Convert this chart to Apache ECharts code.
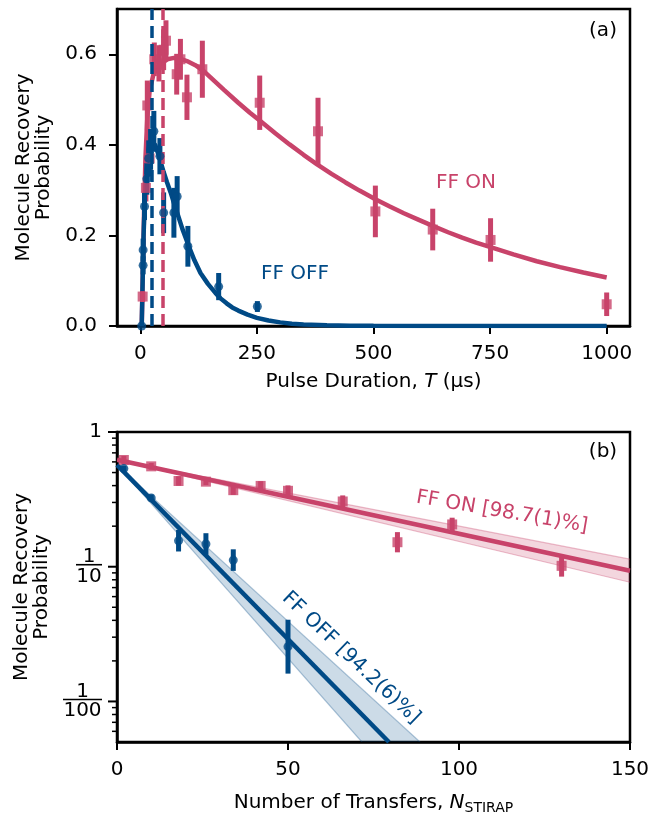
<!DOCTYPE html>
<html>
<head>
<meta charset="utf-8">
<script src="https://cdn.jsdelivr.net/npm/echarts@6/dist/echarts.min.js"></script>
<style>
html,body{margin:0;padding:0;background:#fff}
#main{width:658px;height:816px}
</style>
</head>
<body>
<div id="main"></div>
<script>
var FONT = '"DejaVu Sans"';
var BLUE = '#004a86', PINK = '#c8436a';

// (a) FF ON : pulse duration (us), probability, error
var onT = [5, 12, 15, 20, 30, 40, 50, 55, 78, 86, 100, 133, 256, 381, 504, 627, 751, 1000];
var onP = [0.065, 0.305, 0.487, 0.37, 0.589, 0.58, 0.61, 0.63, 0.556, 0.589, 0.505, 0.567, 0.493, 0.43, 0.253, 0.213, 0.19, 0.048];
var onE = [0.012, 0.03, 0.055, 0.04, 0.037, 0.04, 0.045, 0.045, 0.045, 0.045, 0.05, 0.063, 0.06, 0.074, 0.057, 0.046, 0.048, 0.026];
// (a) FF OFF
var offT = [3, 6, 6, 9, 14, 18, 22, 29, 42, 50, 72, 79, 102, 168, 251];
var offP = [0.0, 0.134, 0.168, 0.264, 0.325, 0.37, 0.39, 0.43, 0.375, 0.25, 0.25, 0.286, 0.176, 0.087, 0.043];
var offE = [0, 0.02, 0.025, 0.03, 0.035, 0.04, 0.045, 0.045, 0.04, 0.045, 0.055, 0.045, 0.045, 0.03, 0.012];
// (a) fit curves
var onFitT = [3, 5, 8, 11, 15, 20, 28, 36, 45, 58, 72, 86, 100, 118, 136, 158, 180, 210, 235, 258, 290, 320, 350, 379, 410, 440, 470, 504, 535, 565, 596, 627, 660, 690, 720, 751, 800, 850, 900, 950, 1000];
var onFitP = [0, 0.1, 0.25, 0.37, 0.46, 0.52, 0.555, 0.57, 0.58, 0.589, 0.592, 0.59, 0.585, 0.576, 0.563, 0.542, 0.521, 0.493, 0.471, 0.452, 0.425, 0.401, 0.378, 0.357, 0.336, 0.317, 0.299, 0.28, 0.264, 0.249, 0.235, 0.221, 0.207, 0.195, 0.184, 0.174, 0.158, 0.143, 0.13, 0.118, 0.107];
var offFitT = [3, 5, 7, 10, 14, 19, 25, 32, 40, 50, 57, 65, 72, 79, 90, 104, 116, 129, 145, 161, 172, 185, 197, 210, 230, 250, 275, 300, 325, 350, 400, 450, 500, 600, 1000];
var offFitP = [0, 0.1, 0.2, 0.29, 0.35, 0.39, 0.405, 0.4, 0.375, 0.34, 0.318, 0.295, 0.272, 0.25, 0.215, 0.176, 0.145, 0.117, 0.093, 0.073, 0.061, 0.05, 0.041, 0.034, 0.025, 0.018, 0.012, 0.008, 0.0052, 0.0035, 0.0015, 0.0007, 0.0003, 0.0001, 0];
// pi-pulse markers
var offTpi = 25, onTpi = 48;
var xTicksA = [0, 250, 500, 750, 1000];
var yTicksA = [0, 0.2, 0.4, 0.6];

// (b) number of transfers, probability, error half-width (log10)
var onN = [2, 10, 18, 26, 34, 42, 50, 66, 82, 98, 130];
var onPb = [0.62, 0.556, 0.433, 0.428, 0.37, 0.398, 0.366, 0.305, 0.152, 0.206, 0.1015];
var onHb = [0.03, 0.025, 0.035, 0.025, 0.035, 0.035, 0.04, 0.045, 0.075, 0.05, 0.08];
var offN = [2, 10, 18, 26, 34, 50];
var offPb = [0.535, 0.324, 0.156, 0.1475, 0.112, 0.0255];
var offHb = [0.02, 0.025, 0.08, 0.08, 0.08, 0.2];
// (b) fit lines and confidence bands
var onFitN = [0, 150], onFitPb = [0.622, 0.0933];
var onBandHiP = [0.622, 0.1137], onBandLoP = [0.622, 0.0767];
var offFitN = [0, 79.5], offFitPb = [0.57, 0.005];
var offBandHiN = [0, 88.6], offBandHiP = [0.57, 0.005];
var offBandLoN = [0, 71.6], offBandLoP = [0.57, 0.005];
var yMajorB = [0.01, 0.1, 1];
var yMinorB = [0.006, 0.007, 0.008, 0.009, 0.02, 0.03, 0.04, 0.05, 0.06, 0.07, 0.08, 0.09,
               0.2, 0.3, 0.4, 0.5, 0.6, 0.7, 0.8, 0.9];

function pairs(xs, ys){ return xs.map(function(x, i){ return [x, ys[i]]; }); }
function errLin(xs, ys, es){ return xs.map(function(x, i){ return [x, ys[i] - es[i], ys[i] + es[i]]; }); }
function errLog(xs, ys, hs){ return xs.map(function(x, i){ var f = Math.pow(10, hs[i]); return [x, ys[i] / f, ys[i] * f]; }); }

function errSeries(data, gi, color){
    return {
        type: 'custom', xAxisIndex: gi, yAxisIndex: gi, data: data, z: 4, silent: true,
        encode: {x: 0, y: [1, 2]},
        renderItem: function(params, api){
            var a = api.coord([api.value(0), api.value(1)]);
            var b = api.coord([api.value(0), api.value(2)]);
            return {type: 'line', shape: {x1: a[0], y1: a[1], x2: b[0], y2: b[1]},
                    style: {stroke: color, lineWidth: 5}};
        }
    };
}

function bandSeries(hiN, hiP, loN, loP, fill, edge){
    return {
        type: 'custom', xAxisIndex: 1, yAxisIndex: 1, silent: true, z: 1,
        data: pairs(hiN, hiP),
        renderItem: function(params, api){
            if (params.dataIndex !== 0) return null;
            var top = hiN.map(function(n, i){ return api.coord([n, hiP[i]]); });
            var bot = loN.map(function(n, i){ return api.coord([n, loP[i]]); }).reverse();
            var cs = params.coordSys;
            var clip = {type: 'rect', shape: {x: cs.x, y: cs.y, width: cs.width, height: cs.height}};
            return {type: 'group', children: [
                {type: 'polygon', shape: {points: top.concat(bot)}, style: {fill: fill}, clipPath: clip},
                {type: 'polyline', shape: {points: top}, style: {stroke: edge, lineWidth: 1.2, fill: null}, clipPath: clip},
                {type: 'polyline', shape: {points: bot}, style: {stroke: edge, lineWidth: 1.2, fill: null}, clipPath: clip}
            ]};
        }
    };
}

function tickSeries(vals, len, w){
    return {
        type: 'custom', xAxisIndex: 1, yAxisIndex: 1, silent: true, clip: false, z: 5,
        data: vals.map(function(v){ return [0, v]; }),
        encode: {x: 0, y: 1},
        renderItem: function(params, api){
            var p = api.coord([0, api.value(1)]);
            var x0 = params.coordSys.x;
            return {type: 'line', shape: {x1: x0 - len, y1: p[1], x2: x0, y2: p[1]},
                    style: {stroke: '#000', lineWidth: w}};
        }
    };
}

var axisLineS = {show: true, onZero: false, lineStyle: {color: '#000', width: 2.5}};

var chart = echarts.init(document.getElementById('main'));
var option = {
    animation: false,
    backgroundColor: '#fff',
    grid: [
        {left: 117, top: 9, width: 513, height: 317, show: true, borderColor: '#000', borderWidth: 2.5},
        {left: 117, top: 432, width: 513, height: 316, show: true, borderColor: '#000', borderWidth: 2.5}
    ],
    xAxis: [
        {type: 'value', gridIndex: 0, min: -50, max: 1050,
         axisLine: axisLineS, splitLine: {show: false},
         axisTick: {customValues: xTicksA, length: 8, lineStyle: {width: 2, color: '#000'}},
         axisLabel: {customValues: xTicksA, margin: 18, color: '#000', fontSize: 20, fontFamily: FONT,
                     formatter: function(v){ return String(v); }},
         name: 'Pulse Duration, {i|T} (μs)', nameLocation: 'middle', nameGap: 46,
         nameTextStyle: {color: '#000', fontSize: 20, fontFamily: FONT,
                         rich: {i: {fontStyle: 'italic', fontSize: 20, fontFamily: FONT, color: '#000'}}}},
        {type: 'value', gridIndex: 1, min: 0, max: 150, interval: 50,
         axisLine: axisLineS, splitLine: {show: false},
         axisTick: {length: 8, lineStyle: {width: 2, color: '#000'}},
         axisLabel: {margin: 18, color: '#000', fontSize: 20, fontFamily: FONT},
         name: '{a|Number of Transfers, }{i|N}{s|STIRAP}', nameLocation: 'middle', nameGap: 49,
         nameTextStyle: {color: '#000', fontSize: 20, fontFamily: FONT,
                         rich: {a: {fontSize: 20, fontFamily: FONT, color: '#000', lineHeight: 24},
                                i: {fontStyle: 'italic', fontSize: 20, fontFamily: FONT, color: '#000', lineHeight: 24},
                                s: {fontSize: 14, fontFamily: FONT, color: '#000', lineHeight: 14, padding: [10, 0, 0, 0]}}}}
    ],
    yAxis: [
        {type: 'value', gridIndex: 0, min: 0, max: 0.7,
         axisLine: axisLineS, splitLine: {show: false},
         axisTick: {customValues: yTicksA, length: 8, lineStyle: {width: 2, color: '#000'}},
         axisLabel: {customValues: yTicksA, margin: 20, color: '#000', fontSize: 20, fontFamily: FONT,
                     formatter: function(v){ return v.toFixed(1); }},
         name: 'Molecule Recovery\nProbability', nameLocation: 'middle', nameGap: 59,
         nameTextStyle: {color: '#000', fontSize: 20, fontFamily: FONT, lineHeight: 20}},
        {type: 'log', gridIndex: 1, min: 0.005, max: 1, logBase: 10,
         axisLine: axisLineS, splitLine: {show: false}, axisTick: {show: false}, minorTick: {show: false},
         axisLabel: {margin: 15, color: '#000', fontSize: 20, fontFamily: FONT,
                     formatter: function(v){
                         var l = Math.log(v) / Math.LN10, e = Math.round(l);
                         if (Math.abs(l - e) > 1e-6) return '';
                         if (e === 0) return '{t|1}';
                         var d = Math.pow(10, -e).toFixed(0);
                         return '{n|1}\n{b' + d.length + '|}\n{d|' + d + '}';
                     },
                     rich: {
                         t: {fontSize: 20, fontFamily: FONT, color: '#000'},
                         n: {fontSize: 20, fontFamily: FONT, color: '#000', align: 'center', lineHeight: 18, padding: [4, 0, 0, 0]},
                         b2: {width: 26, height: 1.6, backgroundColor: '#000', align: 'center'},
                         b3: {width: 39, height: 1.6, backgroundColor: '#000', align: 'center'},
                         d: {fontSize: 20, fontFamily: FONT, color: '#000', align: 'center', lineHeight: 22}
                     }},
         name: 'Molecule Recovery\nProbability', nameLocation: 'middle', nameGap: 59,
         nameTextStyle: {color: '#000', fontSize: 20, fontFamily: FONT, lineHeight: 20}}
    ],
    series: [
        // panel (a)
        {type: 'line', xAxisIndex: 0, yAxisIndex: 0, data: pairs(onFitT, onFitP), symbol: 'none',
         smooth: false, lineStyle: {color: PINK, width: 4.5}, z: 2, silent: true,
         markLine: {silent: true, symbol: ['none', 'none'], label: {show: false},
                    lineStyle: {color: PINK, width: 3.5, type: [12, 6]}, data: [{xAxis: onTpi}]}},
        errSeries(errLin(onT, onP, onE), 0, PINK),
        {type: 'scatter', xAxisIndex: 0, yAxisIndex: 0, data: pairs(onT, onP), symbol: 'rect', symbolSize: 10,
         itemStyle: {color: PINK}, clip: false, z: 4},
        {type: 'line', xAxisIndex: 0, yAxisIndex: 0, data: pairs(offFitT, offFitP), symbol: 'none',
         smooth: false, lineStyle: {color: BLUE, width: 4.5}, z: 3, silent: true,
         markLine: {silent: true, symbol: ['none', 'none'], label: {show: false},
                    lineStyle: {color: BLUE, width: 3.5, type: [12, 6]}, data: [{xAxis: offTpi}]}},
        errSeries(errLin(offT, offP, offE), 0, BLUE),
        {type: 'scatter', xAxisIndex: 0, yAxisIndex: 0, data: pairs(offT, offP), symbol: 'circle', symbolSize: 9,
         itemStyle: {color: BLUE}, clip: false, z: 5},
        // panel (b)
        bandSeries(onFitN, onBandHiP, onFitN, onBandLoP, 'rgba(200,67,106,0.22)', 'rgba(200,67,106,0.35)'),
        bandSeries(offBandHiN, offBandHiP, offBandLoN, offBandLoP, 'rgba(0,74,134,0.2)', 'rgba(0,74,134,0.3)'),
        {type: 'line', xAxisIndex: 1, yAxisIndex: 1, data: pairs(onFitN, onFitPb), symbol: 'none',
         lineStyle: {color: PINK, width: 4.5}, z: 2, silent: true},
        {type: 'line', xAxisIndex: 1, yAxisIndex: 1, data: pairs(offFitN, offFitPb), symbol: 'none',
         lineStyle: {color: BLUE, width: 4.5}, z: 2, silent: true},
        errSeries(errLog(onN, onPb, onHb), 1, PINK),
        {type: 'scatter', xAxisIndex: 1, yAxisIndex: 1, data: pairs(onN, onPb), symbol: 'rect', symbolSize: 10,
         itemStyle: {color: PINK}, clip: false, z: 4},
        errSeries(errLog(offN, offPb, offHb), 1, BLUE),
        {type: 'scatter', xAxisIndex: 1, yAxisIndex: 1, data: pairs(offN, offPb), symbol: 'circle', symbolSize: 9,
         itemStyle: {color: BLUE}, clip: false, z: 5},
        tickSeries(yMajorB, 9, 2),
        tickSeries(yMinorB, 5, 1.5)
    ],
    graphic: [
        {type: 'text', x: 603, y: 31, z: 10, style: {text: '(a)', font: '20px ' + FONT, fill: '#000', align: 'center', verticalAlign: 'middle'}},
        {type: 'text', x: 603, y: 452, z: 10, style: {text: '(b)', font: '20px ' + FONT, fill: '#000', align: 'center', verticalAlign: 'middle'}},
        {type: 'text', x: 295, y: 274, z: 10, style: {text: 'FF OFF', font: '20px ' + FONT, fill: BLUE, align: 'center', verticalAlign: 'middle'}},
        {type: 'text', x: 466, y: 183, z: 10, style: {text: 'FF ON', font: '20px ' + FONT, fill: PINK, align: 'center', verticalAlign: 'middle'}},
        {type: 'text', x: 502, y: 512, rotation: -0.17, z: 10, style: {text: 'FF ON [98.7(1)%]', font: '20px ' + FONT, fill: PINK, align: 'center', verticalAlign: 'middle'}},
        {type: 'text', x: 351, y: 658, rotation: -0.76, z: 10, style: {text: 'FF OFF [94.2(6)%]', font: '20px ' + FONT, fill: BLUE, align: 'center', verticalAlign: 'middle'}}
    ]
};
chart.setOption(option);
</script>
</body>
</html>
